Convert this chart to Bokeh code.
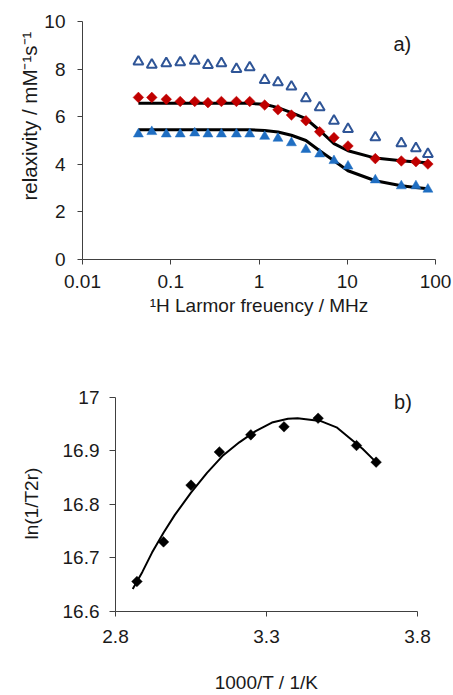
import numpy as np
from bokeh.plotting import figure
from bokeh.models import Range1d, FixedTicker, Label, Title
from bokeh.embed import file_html
from bokeh.resources import INLINE

# ---------------- data: panel a ----------------
freq = [0.043, 0.061, 0.089, 0.128, 0.187, 0.264, 0.375, 0.555, 0.785, 1.16,
        1.64, 2.33, 3.4, 4.87, 7.07, 10.2, 20.8, 41, 60, 82]
open_tri = [8.31, 8.18, 8.24, 8.28, 8.35, 8.17, 8.24, 8.00, 8.07, 7.54,
            7.44, 7.26, 6.77, 6.39, 5.83, 5.48, 5.13, 4.88, 4.67, 4.43]
diamonds = [6.81, 6.81, 6.73, 6.64, 6.64, 6.59, 6.64, 6.64, 6.64, 6.49,
            6.29, 6.07, 5.83, 5.37, 5.12, 4.77, 4.24, 4.14, 4.11, 4.01]
filled_tri = [5.27, 5.37, 5.27, 5.27, 5.31, 5.27, 5.27, 5.27, 5.27, 5.17,
              5.09, 4.90, 4.62, 4.43, 4.15, 3.92, 3.34, 3.09, 3.09, 2.95]
fit_top = [6.56, 6.56, 6.56, 6.56, 6.56, 6.56, 6.56, 6.56, 6.56, 6.52,
           6.38, 6.17, 5.92, 5.42, 4.87, 4.57, 4.26, 4.15, 4.10, 4.07]
fit_bottom = [5.45, 5.45, 5.45, 5.45, 5.45, 5.45, 5.45, 5.45, 5.45, 5.42,
              5.36, 5.22, 5.00, 4.57, 4.15, 3.73, 3.31, 3.10, 3.03, 2.97]
a_xticks = [0.01, 0.1, 1, 10, 100]
a_xlabels = ["0.01", "0.1", "1", "10", "100"]
a_yticks = [0, 2, 4, 6, 8, 10]

# ---------------- data: panel b ----------------
inv_t = [2.871, 2.959, 3.050, 3.144, 3.248, 3.358, 3.471, 3.598, 3.663]
ln_t2r = [16.656, 16.730, 16.836, 16.898, 16.930, 16.945, 16.961, 16.910, 16.879]
curve_x = [2.857, 2.889, 2.921, 2.959, 2.996, 3.050, 3.103, 3.157, 3.210,
           3.264, 3.318, 3.371, 3.403, 3.478, 3.532, 3.586, 3.618, 3.661]
curve_y = [16.642, 16.674, 16.710, 16.747, 16.780, 16.822, 16.859, 16.892, 16.916,
           16.937, 16.953, 16.960, 16.961, 16.956, 16.944, 16.919, 16.904, 16.880]
b_xticks = [2.8, 3.3, 3.8]
b_xlabels = ["2.8", "3.3", "3.8"]
b_yticks = [16.6, 16.7, 16.8, 16.9, 17.0]
b_ylabels = ["16.6", "16.7", "16.8", "16.9", "17"]

FONT = "Liberation Sans"
AXC = "#404040"
TXT = "#1a1a1a"
FS = "19px"


def style_axes(p, xstand, ystand):
    p.outline_line_color = None
    p.grid.visible = False
    p.background_fill_color = "white"
    p.border_fill_color = "white"
    for ax in p.axis:
        ax.axis_line_color = AXC
        ax.axis_line_width = 1
        ax.major_tick_line_color = AXC
        ax.major_tick_in = 0
        ax.major_tick_out = 5
        ax.minor_tick_line_color = None
        ax.major_label_text_font = FONT
        ax.major_label_text_font_size = FS
        ax.major_label_text_color = TXT
        ax.axis_label_text_font = FONT
        ax.axis_label_text_font_size = FS
        ax.axis_label_text_font_style = "normal"
        ax.axis_label_text_color = TXT
    p.xaxis.major_label_standoff = xstand
    p.yaxis.major_label_standoff = ystand


# ---------------- panel a ----------------
p1 = figure(width=453, height=320, x_axis_type="log",
            x_range=Range1d(0.01, 100), y_range=Range1d(0, 10),
            output_backend="svg", toolbar_location=None,
            min_border_left=82, min_border_right=18,
            min_border_top=21, min_border_bottom=61)
style_axes(p1, 10, 12)
p1.xaxis.ticker = FixedTicker(ticks=a_xticks)
p1.xaxis.major_label_overrides = {t: s for t, s in zip(a_xticks, a_xlabels)}
p1.yaxis.ticker = FixedTicker(ticks=a_yticks)
p1.xaxis.axis_label = "\u00b9H Larmor freuency / MHz"
p1.xaxis.axis_label_standoff = 4

p1.line(freq, fit_top, line_color="black", line_width=3)
p1.line(freq, fit_bottom, line_color="black", line_width=3)
p1.scatter(freq, open_tri, marker="triangle", size=10, fill_color="white",
           line_color="#2F5597", line_width=2)
p1.scatter(freq, diamonds, marker="square", angle=np.pi / 4, size=7.5,
           fill_color="#C00000", line_color="#C00000", line_width=0.5)
p1.scatter(freq, filled_tri, marker="triangle", size=10, fill_color="#1F6EC2",
           line_color="#1F6EC2", line_width=0.5)

p1.add_layout(Title(text="relaxivity / mM\u207b\u00b9s\u207b\u00b9", align="left",
                    offset=59, standoff=2, text_font=FONT, text_font_size="20.5px",
                    text_font_style="normal", text_color=TXT), "left")
p1.add_layout(Label(x=42.1, y=9.07, text="a)", text_align="center",
                    text_baseline="middle", text_font=FONT,
                    text_font_size="20px", text_color=TXT))

# ---------------- panel b ----------------
p2 = figure(width=453, height=375,
            x_range=Range1d(2.8, 3.8), y_range=Range1d(16.6, 17.0315),
            output_backend="svg", toolbar_location=None,
            min_border_left=106, min_border_right=36,
            min_border_top=60, min_border_bottom=78)
style_axes(p2, 13, 10)
p2.yaxis.major_tick_out = 6
p2.yaxis.bounds = (16.6, 17.0)
p2.xaxis.ticker = FixedTicker(ticks=b_xticks)
p2.xaxis.major_label_overrides = {t: s for t, s in zip(b_xticks, b_xlabels)}
p2.yaxis.ticker = FixedTicker(ticks=b_yticks)
p2.yaxis.major_label_overrides = {t: s for t, s in zip(b_yticks, b_ylabels)}
p2.xaxis.axis_label = "1000/T / 1/K"
p2.xaxis.axis_label_standoff = 26

p2.line(curve_x, curve_y, line_color="black", line_width=2)
p2.scatter(inv_t, ln_t2r, marker="square", angle=np.pi / 4, size=7.5,
           fill_color="black", line_color="black", line_width=0.5)

p2.add_layout(Title(text="ln(1/T2r)", align="left", offset=72, standoff=36,
                    text_font=FONT, text_font_size=FS, text_font_style="normal",
                    text_color=TXT), "left")
p2.add_layout(Label(x=3.752, y=16.9915, text="b)", text_align="center",
                    text_baseline="middle", text_font=FONT,
                    text_font_size="20px", text_color=TXT))

open("out.html", "w").write(file_html([p1, p2], INLINE))
